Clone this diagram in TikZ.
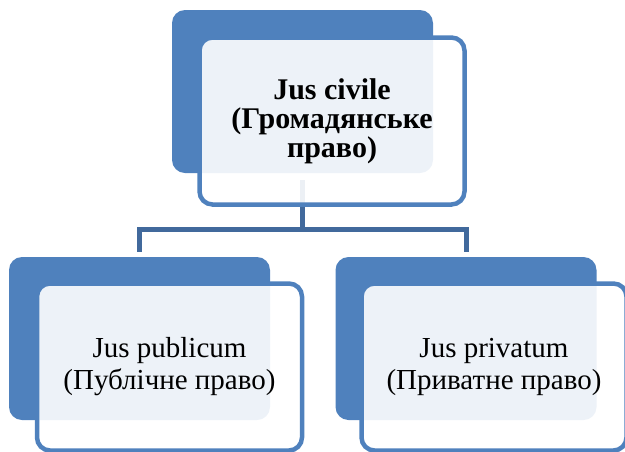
\documentclass[tikz,border=0pt]{standalone}
\usepackage{fontspec}
\setmainfont{Liberation Serif}
\definecolor{accent}{RGB}{79,129,189}
\definecolor{connc}{RGB}{65,105,156}
\tikzset{
  backbox/.style={rectangle, rounded corners=13pt, fill=accent, draw=none,
    minimum width=261pt, minimum height=163pt, inner sep=0pt},
  frontbox/.style={rectangle, rounded corners=13pt, draw=accent, line width=4.5pt,
    fill=white, fill opacity=0.9, text opacity=1,
    minimum width=265pt, minimum height=167pt, inner sep=0pt, align=center},
  conn/.style={draw=connc, line width=5pt},
  toptext/.style={font=\bfseries\fontsize{30}{29}\selectfont},
  bottext/.style={font=\fontsize{29}{32}\selectfont}
}
\begin{document}
\begin{tikzpicture}[x=1pt,y=-1pt]
\useasboundingbox (0,0) rectangle (625,451);
% back boxes
\node[backbox] (topb) at (302.5,91.5) {};
\node[backbox] (leftb) at (139.5,338.5) {};
\node[backbox] (rightb) at (466,338.5) {};
% bus coordinates
\coordinate (busL) at (139.5,229.5);
\coordinate (busR) at (466,229.5);
% connectors
\draw[conn] ([yshift=-7pt]topb.south) -- (topb.south |- busL);
\draw[conn, line join=miter] ([yshift=5pt]leftb.north) |- (busR) -- ([yshift=5pt]rightb.north);
% front boxes
\node[frontbox, toptext] (topf) at (332,121) {Jus civile\\(Громадянське\\право)};
\node[frontbox, bottext] (leftf) at (169.5,367) {Jus publicum\\(Публічне право)};
\node[frontbox, bottext] (rightf) at (494,367) {Jus privatum\\(Приватне право)};
\end{tikzpicture}
\end{document}
